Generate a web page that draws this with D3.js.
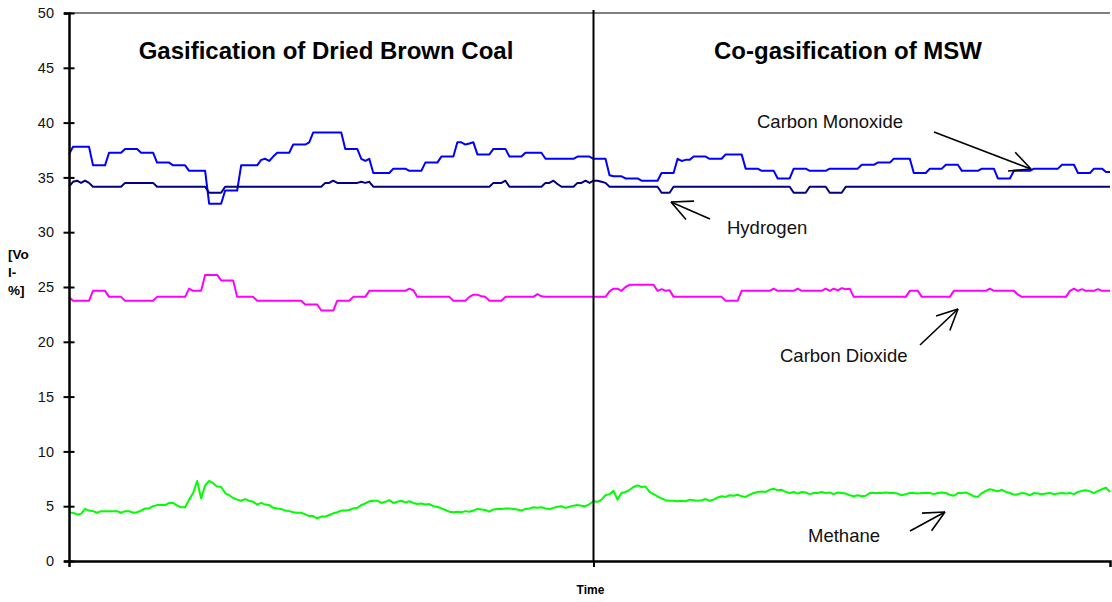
<!DOCTYPE html>
<html>
<head>
<meta charset="utf-8">
<script src="https://cdn.jsdelivr.net/npm/d3@7"></script>
<style>
  body { margin: 0; background: #fff; }
  svg text { font-family: "Liberation Sans", Arial, sans-serif; }
</style>
</head>
<body>
<svg id="chart" width="1112" height="602"></svg>
<script>
// readings, one every time step (same step for every gas)
let carbonMonoxide = [
  37.1, 37.8,37.8,37.8,37.8,37.8, 36.1,36.1,36.1,36.1,
  37.25,37.25,37.25,37.25, 37.6,37.6,37.6,37.6, 37.25,37.25,
  37.25,37.25, 36.35,36.35,36.35,36.35, 36.1,36.1,36.1,36.1,
  35.6,35.6,35.6,35.6,35.6, 32.6,32.6,32.6,32.6, 33.8,
  33.8,33.8,33.8, 36.1,36.1,36.1,36.1,36.1, 36.6,36.7,
  36.5, 36.9, 37.25,37.25,37.25,37.25, 38.0,38.0,38.0,38.0,
  38.2, 39.1,39.1,39.1,39.1,39.1,39.1,39.1,39.1, 37.6,
  37.6,37.6,37.6, 36.7,36.5,36.7, 35.4,35.4,35.4,35.4,
  35.4, 35.8,35.8,35.8,35.8, 35.6,35.6,35.6,35.6, 36.35,
  36.35,36.35,36.35, 36.9,36.9,36.9,36.9, 38.2,38.2,38.0,
  38.1,38.2, 37.1,37.1,37.1,37.1, 37.6,37.6,37.6,37.6,
  36.9,36.9,36.9,36.9, 37.25,37.25,37.25,37.25,37.25, 36.7,
  36.7,36.7,36.7,36.7,36.7,36.7,36.7, 36.9,36.9,36.9,
  36.9, 36.7,36.7,36.7,36.7, 35.2, 35.1,35.1,35.1, 34.9,
  34.9,34.9,34.9, 34.7,34.7,34.7,34.7,34.7, 35.4,35.4,
  35.4,35.4, 36.7,36.5,36.6,36.6, 36.9,36.9,36.9,36.9,
  36.7,36.7,36.7,36.7, 37.1,37.1,37.1,37.1,37.1, 35.8,
  35.8,35.8,35.8, 35.6,35.6,35.6,35.6, 34.9,34.9,34.9,
  34.9, 35.8,35.8,35.8,35.8, 35.6,35.6,35.6,35.6,35.6,
  35.8,35.8,35.8,35.8,35.8,35.8,35.8,35.8, 36.15,36.15,
  36.15,36.15, 36.35,36.35,36.35,36.35, 36.7,36.7,36.7,36.7,
  36.7, 35.4,35.4,35.4,35.4, 35.8,35.8,35.8,35.8, 36.15,
  36.15,36.15,36.15, 35.6,35.6,35.6,35.6,35.6, 35.8,35.8,
  35.8,35.8, 34.9,34.9,34.9,34.9, 35.6,35.6,35.6,35.6,
  35.6, 35.8,35.8,35.8,35.8,35.8,35.8,35.8, 36.15,36.15,
  36.15,36.15, 35.4,35.4,35.4,35.4, 35.8,35.8,35.8, 35.5,
  35.5
];

let hydrogen = [
  34.15, 34.6,34.7,34.5,34.7,34.5, 34.15,34.15,34.15,34.15,
  34.15,34.15,34.15,34.15, 34.5,34.5,34.5,34.5,34.5,34.5,
  34.5,34.5, 34.15,34.15,34.15,34.15,34.15,34.15,34.15,34.15,
  34.15,34.15,34.15,34.15,34.15, 33.6,33.6,33.6,33.6, 34.15,
  34.15,34.15,34.15,34.15,34.15,34.15,34.15,34.15,34.15,34.15,
  34.15,34.15,34.15,34.15,34.15,34.15,34.15,34.15,34.15,34.15,
  34.15,34.15,34.15,34.15, 34.5,34.5,34.7,34.5,34.5,34.5,
  34.5,34.5,34.5, 34.6,34.5,34.6, 34.15,34.15,34.15,34.15,
  34.15,34.15,34.15,34.15,34.15,34.15,34.15,34.15,34.15,34.15,
  34.15,34.15,34.15,34.15,34.15,34.15,34.15,34.15,34.15,34.15,
  34.15,34.15,34.15,34.15,34.15,34.15, 34.5,34.5,34.5,34.7,
  34.15,34.15,34.15,34.15,34.15,34.15,34.15,34.15,34.15, 34.5,
  34.5,34.7,34.4, 34.15,34.15,34.15,34.15, 34.5,34.5,34.7,
  34.5,34.7,34.7,34.6,34.5, 34.15,34.15,34.15,34.15,34.15,
  34.15,34.15,34.15,34.15,34.15,34.15,34.15,34.15, 33.6,33.6,
  33.6, 34.15,34.15,34.15,34.15,34.15,34.15,34.15,34.15,34.15,
  34.15,34.15,34.15,34.15,34.15,34.15,34.15,34.15,34.15,34.15,
  34.15,34.15,34.15,34.15,34.15,34.15,34.15,34.15,34.15,34.15,
  34.15, 33.6,33.6,33.6,33.6, 34.15,34.15,34.15,34.15,34.15,
  33.6,33.6,33.6,33.6, 34.15,34.15,34.15,34.15,34.15,34.15,
  34.15,34.15,34.15,34.15,34.15,34.15,34.15,34.15,34.15,34.15,
  34.15,34.15,34.15,34.15,34.15,34.15,34.15,34.15,34.15,34.15,
  34.15,34.15,34.15,34.15,34.15,34.15,34.15,34.15,34.15,34.15,
  34.15,34.15,34.15,34.15,34.15,34.15,34.15,34.15,34.15,34.15,
  34.15,34.15,34.15,34.15,34.15,34.15,34.15,34.15,34.15,34.15,
  34.15,34.15,34.15,34.15,34.15,34.15,34.15,34.15,34.15,34.15,
  34.15
];

let carbonDioxide = [
  24.1, 23.75,23.75,23.75,23.75,23.75, 24.65,24.65,24.65,24.65,
  24.1,24.1,24.1,24.1, 23.75,23.75,23.75,23.75,23.75,23.75,
  23.75,23.75, 24.1,24.1,24.1,24.1,24.1,24.1,24.1,24.1,
  24.85, 24.65,24.65,24.65, 26.1,26.1,26.1,26.1, 25.6,25.6,
  25.6,25.6, 24.1,24.1,24.1,24.1,24.1, 23.75,23.75,23.75,
  23.75,23.75,23.75,23.75,23.75,23.75,23.75,23.75,23.75, 23.4,
  23.4,23.4,23.4, 22.85,22.85,22.85,22.85, 23.75,23.75,23.75,
  23.75, 24.1,24.1,24.1,24.1, 24.65,24.65,24.65,24.65,24.65,
  24.65,24.65,24.65,24.65,24.65, 24.85,24.7, 24.1,24.1,24.1,
  24.1,24.1,24.1,24.1,24.1,24.1, 23.75,23.75,23.75,23.75,
  24.1,24.3,24.3,24.15,24.1, 23.75,23.75,23.75,23.75, 24.1,
  24.1,24.1,24.1,24.1,24.1,24.1,24.1, 24.35,24.15, 24.1,
  24.1,24.1,24.1,24.1,24.1,24.1,24.1,24.1,24.1,24.1,
  24.1,24.1,24.1,24.1,24.1, 24.6,24.85,24.85,24.65, 25.0,
  25.2,25.2,25.2,25.2,25.2,25.2,25.2, 24.65,24.8,24.65,
  24.7, 24.1,24.1,24.1,24.1,24.1,24.1,24.1,24.1,24.1,
  24.1,24.1,24.1,24.1, 23.75,23.75,23.75,23.75, 24.65,24.65,
  24.65,24.65,24.65,24.65,24.65,24.65, 24.85,24.65,24.65,24.65,
  24.65,24.65,24.85, 24.65,24.65,24.65,24.65,24.65,24.65, 24.85,
  24.65,24.85,24.7,24.9,24.8,24.85, 24.1,24.1,24.1,24.1,
  24.1,24.1,24.1,24.1,24.1,24.1,24.1,24.1,24.1,24.1,
  24.65,24.65,24.65, 24.1,24.1,24.1,24.1,24.1,24.1,24.1,
  24.1, 24.65,24.65,24.65,24.65,24.65,24.65,24.65,24.65,24.65,
  24.85, 24.65,24.65,24.65,24.65,24.65,24.65, 24.3, 24.1,24.1,
  24.1,24.1,24.1,24.1,24.1,24.1,24.1,24.1,24.1,24.1,
  24.65,24.85,24.65,24.8,24.65,24.65,24.65,24.8,24.65,24.65,
  24.65
];

let methane = [
  4.4,4.4,4.25,4.3,4.75,4.6,4.55,4.4,4.55,4.55,
  4.55,4.55,4.55,4.4,4.55,4.55,4.4,4.45,4.6,4.8,
  4.8,5.0,5.1,5.1,5.1,5.3,5.3,5.05,4.9,4.9,
  5.6,6.2,7.3,5.7,6.9,7.3,7.1,6.8,6.75,6.2,
  6.0,5.75,5.6,5.5,5.65,5.5,5.4,5.15,5.3,5.15,
  5.1,4.85,4.8,4.75,4.6,4.55,4.45,4.4,4.4,4.25,
  4.1,4.1,3.9,4.05,4.05,4.2,4.35,4.45,4.6,4.6,
  4.65,4.8,4.85,5.1,5.25,5.45,5.5,5.5,5.3,5.4,
  5.55,5.3,5.4,5.5,5.35,5.45,5.3,5.2,5.25,5.15,
  5.2,5.0,4.95,4.8,4.65,4.5,4.45,4.5,4.45,4.55,
  4.5,4.6,4.75,4.7,4.65,4.5,4.7,4.75,4.75,4.8,
  4.8,4.75,4.7,4.6,4.75,4.8,4.9,4.85,4.9,4.8,
  4.75,4.85,4.95,5.0,4.85,4.95,5.05,5.1,5.05,5.0,
  5.2,5.45,5.4,5.6,6.0,6.1,6.4,5.6,6.2,6.3,
  6.5,6.75,6.9,6.75,6.8,6.3,6.1,5.9,5.7,5.55,
  5.5,5.5,5.45,5.5,5.45,5.6,5.55,5.5,5.55,5.65,
  5.5,5.6,5.8,5.9,5.85,6.0,5.95,6.05,5.9,5.85,
  6.05,6.2,6.3,6.35,6.3,6.5,6.6,6.45,6.5,6.3,
  6.2,6.3,6.15,6.3,6.25,6.1,6.2,6.2,6.3,6.2,
  6.25,6.1,6.25,6.2,6.15,6.0,5.9,6.0,5.9,5.95,
  6.2,6.2,6.2,6.2,6.25,6.2,6.2,6.15,6.0,6.1,
  6.2,6.2,6.15,6.2,6.2,6.2,6.1,6.2,6.25,6.2,
  6.05,5.95,6.2,6.2,6.25,6.1,5.9,5.85,6.2,6.4,
  6.55,6.45,6.35,6.5,6.3,6.2,6.05,6.1,6.2,6.15,
  6.0,6.2,6.15,6.1,6.15,6.2,6.1,6.15,6.2,6.15,
  6.2,6.1,6.3,6.4,6.45,6.35,6.2,6.4,6.55,6.7,
  6.3
];

let seriesNames = ['Carbon Monoxide', 'Hydrogen', 'Carbon Dioxide', 'Methane'];
let seriesColors = ['#0000ff', '#000080', '#ff00ff', '#00ff00'];
let yTicks = [0, 5, 10, 15, 20, 25, 30, 35, 40, 45, 50];
let phaseTitles = ['Gasification of Dried Brown Coal', 'Co-gasification of MSW'];
let switchStep = 131; // time step where MSW feeding starts

let margin = {left: 69, right: 2, top: 13, bottom: 41};
let W = 1112, H = 602;
let svg = d3.select('#chart');

let nSteps = carbonMonoxide.length - 1;
let xScale = d3.scaleLinear().domain([0, nSteps]).range([margin.left, W - margin.right]);
let yScale = d3.scaleLinear().domain([0, 50]).range([H - margin.bottom, margin.top]);

// top frame line
svg.append('line')
    .attr('x1', xScale(0)).attr('x2', xScale(nSteps))
    .attr('y1', yScale(50)).attr('y2', yScale(50))
    .attr('stroke', '#808080').attr('stroke-width', 2);

// series
let allSeries = [carbonMonoxide, hydrogen, carbonDioxide, methane];
let line = d3.line()
    .x((d, i) => xScale(i))
    .y(d => yScale(d));

svg.selectAll('.gasLine')
    .data(allSeries)
    .join('path')
    .classed('gasLine', true)
    .attr('d', d => line(d))
    .attr('fill', 'none')
    .attr('stroke', (d, i) => seriesColors[i])
    .attr('stroke-width', 2)
    .attr('stroke-linejoin', 'round');

// y axis with ticks crossing the axis line
let yAxis = d3.axisLeft(yScale).tickValues(yTicks).tickSize(5).tickPadding(10);
let gy = svg.append('g')
    .attr('transform', `translate(${margin.left},0)`)
    .call(yAxis);
gy.select('.domain').attr('stroke', '#000').attr('stroke-width', 2.5);
gy.selectAll('.tick line').attr('x2', -5.5).attr('x1', 5.5).attr('stroke', '#000').attr('stroke-width', 2);
gy.selectAll('.tick text')
    .attr('font-size', 14.5)
    .attr('fill', '#111')
    .attr('font-family', '"Liberation Sans", Arial, sans-serif');

// x axis: one tick at phase switch
let xAxis = d3.axisBottom(xScale).tickValues([switchStep]).tickSize(6).tickFormat('');
let gx = svg.append('g')
    .attr('transform', `translate(0,${yScale(0)})`)
    .call(xAxis);
gx.select('.domain').attr('stroke', '#000').attr('stroke-width', 2.5);
gx.selectAll('.tick line').attr('stroke', '#000').attr('stroke-width', 2);

// phase divider
svg.append('line')
    .attr('x1', xScale(switchStep)).attr('x2', xScale(switchStep))
    .attr('y1', yScale(50) - 3).attr('y2', yScale(0))
    .attr('stroke', '#000').attr('stroke-width', 2);

svg.append('text')
    .attr('x', xScale(switchStep) - 3).attr('y', 594)
    .attr('text-anchor', 'middle')
    .attr('font-size', 12).attr('font-weight', 'bold')
    .text('Time');

// y label, broken over three lines
let yLab = svg.append('text')
    .attr('x', 8).attr('y', 259)
    .attr('font-size', 13.5).attr('font-weight', 'bold');
['[Vo', 'l-', '%]'].forEach((s, i) => {
    yLab.append('tspan').attr('x', 8).attr('dy', i == 0 ? 0 : 18).text(s);
});

// phase titles
svg.selectAll('.phaseTitle')
    .data(phaseTitles)
    .join('text')
    .classed('phaseTitle', true)
    .attr('x', (d, i) => i == 0 ? 326 : 848)
    .attr('y', 59)
    .attr('text-anchor', 'middle')
    .attr('font-size', 24).attr('font-weight', 'bold')
    .text(d => d);

// annotations with open arrowheads
let notes = [
    {text: seriesNames[0], tx: 757, ty: 128, from: [934, 132], to: [1031, 169]},
    {text: seriesNames[1], tx: 727, ty: 234, from: [710, 219], to: [671, 202]},
    {text: seriesNames[2], tx: 780, ty: 362, from: [920, 345], to: [958, 309]},
    {text: seriesNames[3], tx: 808, ty: 542, from: [910, 531], to: [945, 512]}
];

notes.forEach(n => {
    svg.append('text')
        .attr('x', n.tx).attr('y', n.ty)
        .attr('font-size', 18.5)
        .attr('fill', '#111')
        .text(n.text);

    let g = svg.append('g').attr('stroke', '#000').attr('stroke-width', 1.6).attr('fill', 'none');
    g.append('line')
        .attr('x1', n.from[0]).attr('y1', n.from[1])
        .attr('x2', n.to[0]).attr('y2', n.to[1]);
    let ang = Math.atan2(n.to[1] - n.from[1], n.to[0] - n.from[0]);
    [-0.45, 0.45].forEach(da => {
        g.append('line')
            .attr('x1', n.to[0]).attr('y1', n.to[1])
            .attr('x2', n.to[0] - 23 * Math.cos(ang + da))
            .attr('y2', n.to[1] - 23 * Math.sin(ang + da));
    });
});
</script>
</body>
</html>
